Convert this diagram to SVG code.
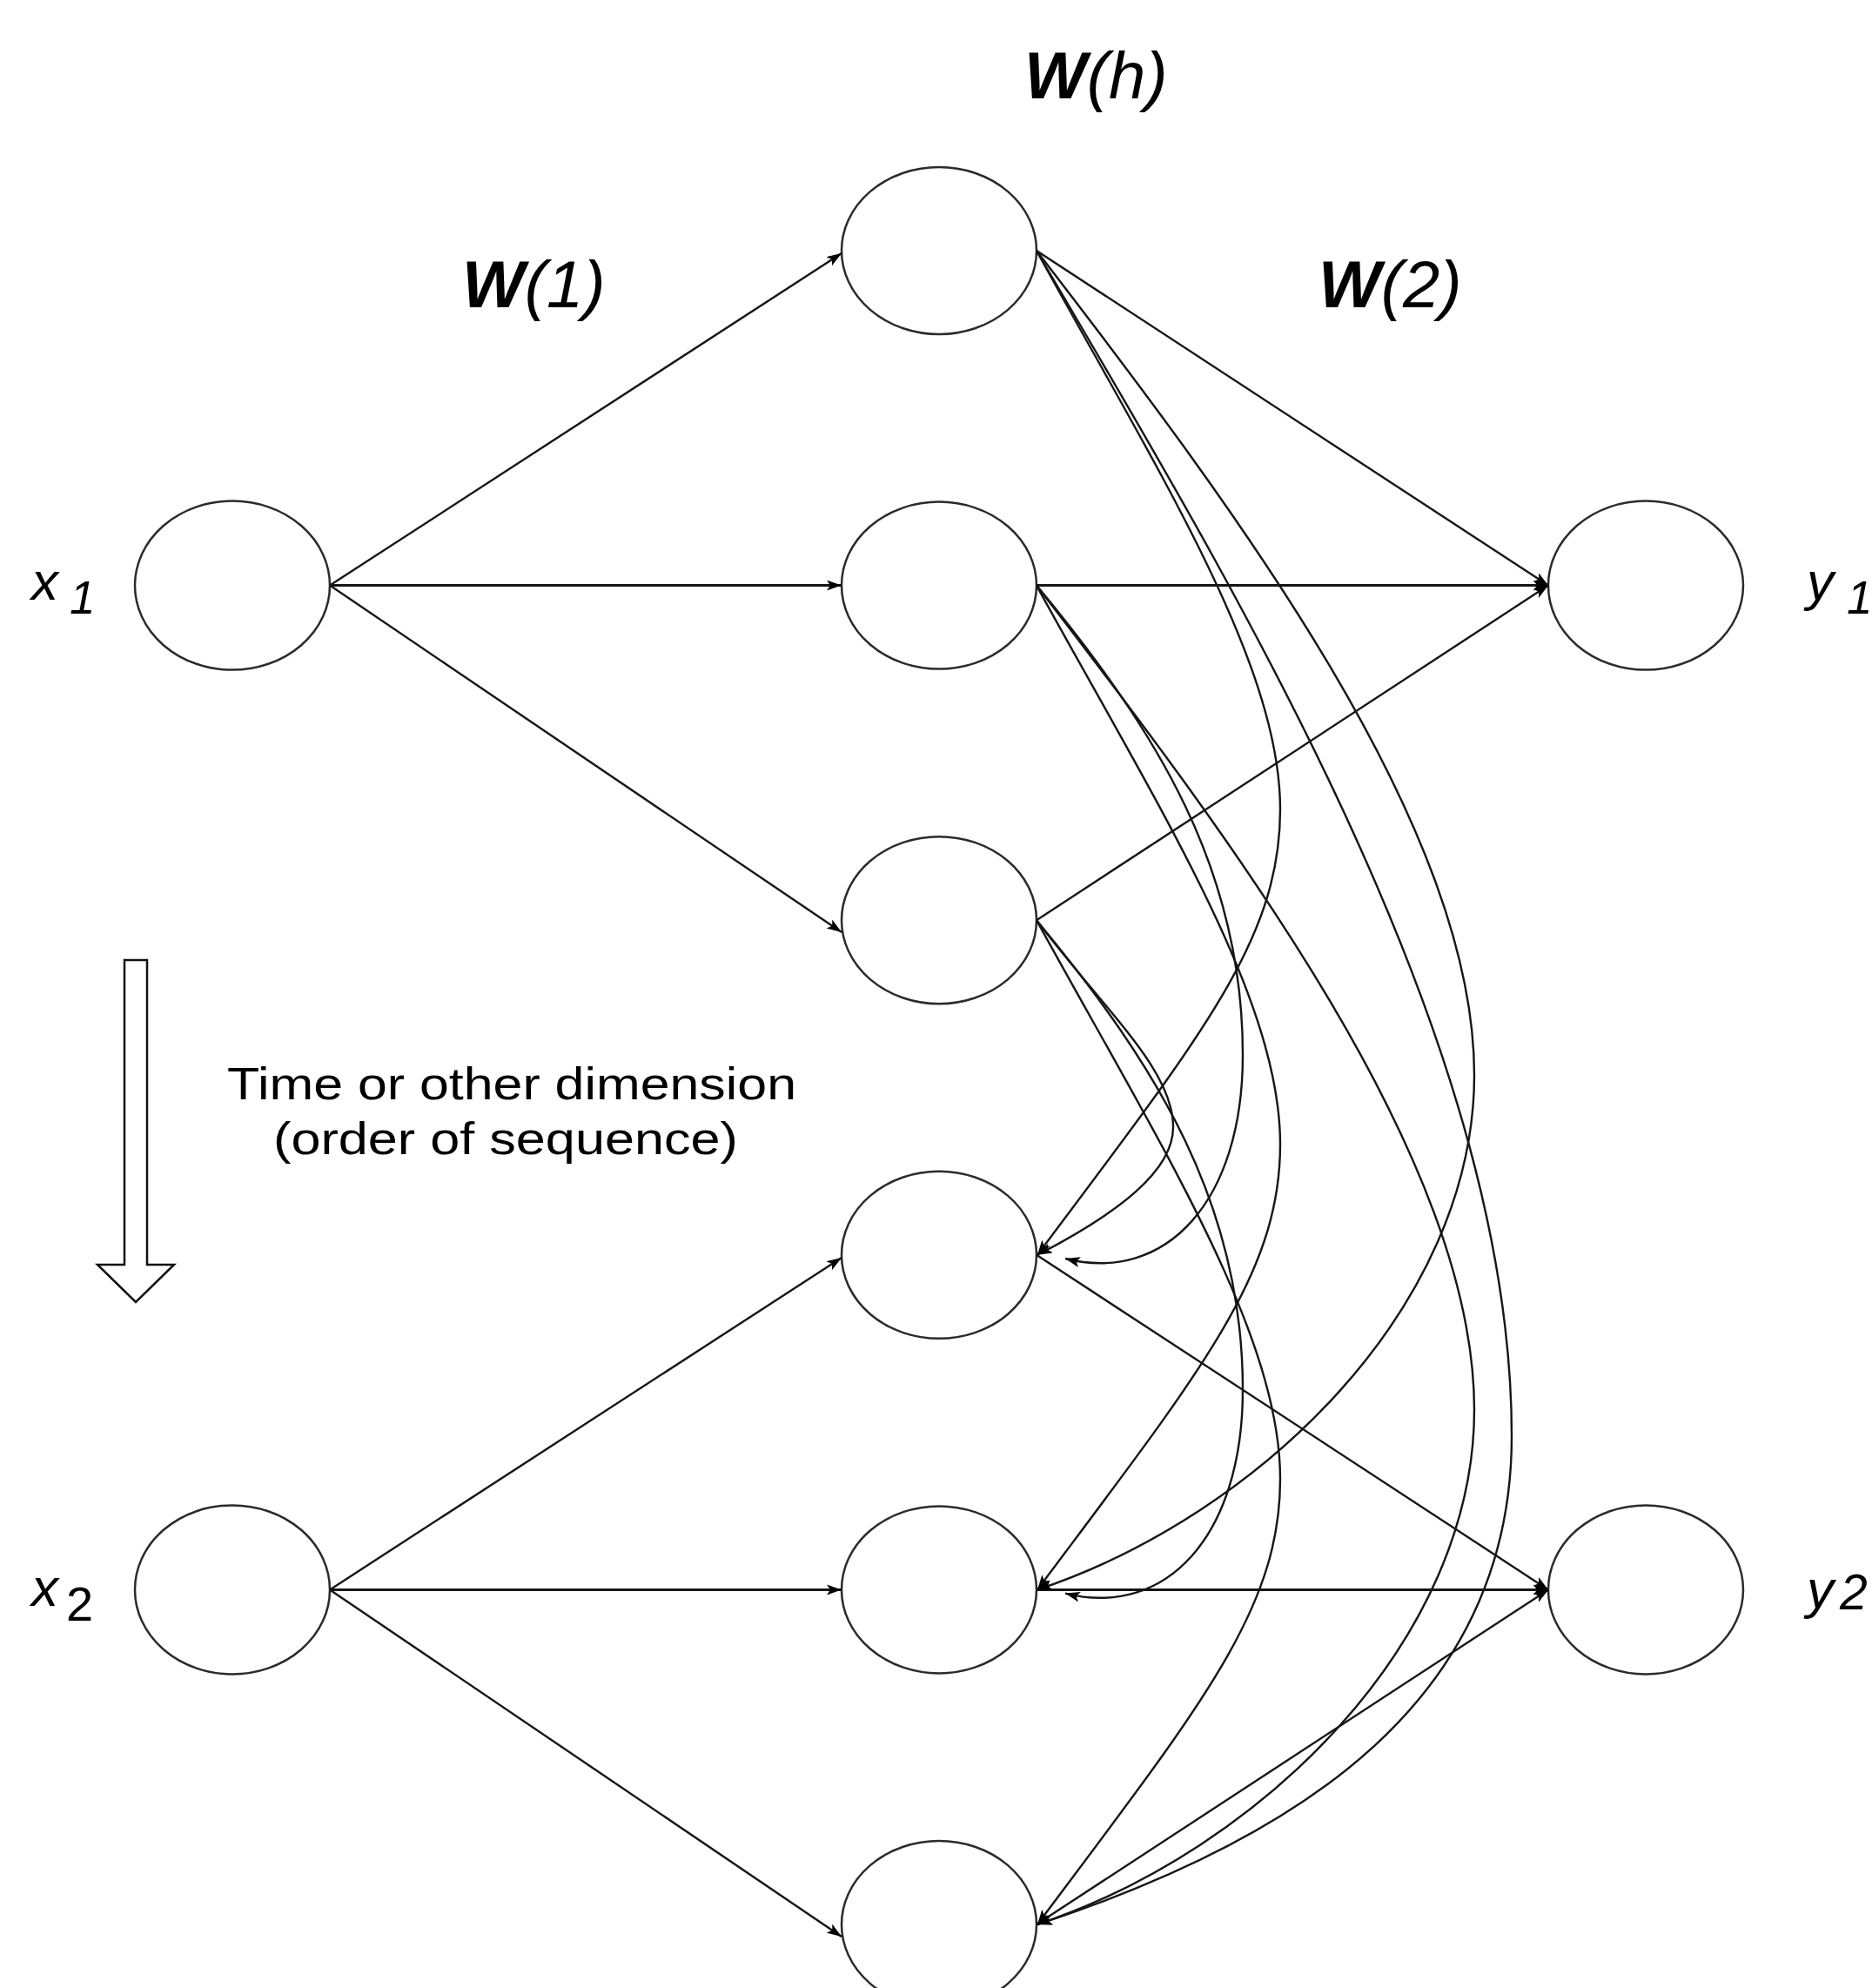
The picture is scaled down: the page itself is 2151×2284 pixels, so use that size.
<svg xmlns="http://www.w3.org/2000/svg" width="2151" height="2284" viewBox="0 0 2151 2284">
<style>
.node{fill:#fff;stroke:#2b2b2b;stroke-width:2.5}
.edge{fill:none;stroke:#161616;stroke-width:2.4}
.hz{stroke-width:3}
.lbl{font-family:"Liberation Sans",Arial,Helvetica,sans-serif;fill:#000}
.it{font-style:italic}
</style>
<defs>
<marker id="arr" markerUnits="userSpaceOnUse" markerWidth="20" markerHeight="14" refX="17" refY="6" orient="auto">
<path d="M0,0 L17,6 L0,12 L4,6 Z" fill="#000"/>
</marker>
</defs>
<rect x="0" y="0" width="2151" height="2284" fill="#fff"/>

<g id="node-x1"><ellipse class="node" cx="267" cy="672.6" rx="112" ry="97"/></g>
<g id="node-x2"><ellipse class="node" cx="267" cy="1826.4" rx="112" ry="97"/></g>
<g id="node-h1"><ellipse class="node" cx="1079" cy="288" rx="112" ry="96"/></g>
<g id="node-h2"><ellipse class="node" cx="1079" cy="672.6" rx="112" ry="96"/></g>
<g id="node-h3"><ellipse class="node" cx="1079" cy="1057.2" rx="112" ry="96"/></g>
<g id="node-h4"><ellipse class="node" cx="1079" cy="1441.8" rx="112" ry="96"/></g>
<g id="node-h5"><ellipse class="node" cx="1079" cy="1826.4" rx="112" ry="96"/></g>
<g id="node-h6"><ellipse class="node" cx="1079" cy="2211" rx="112" ry="96"/></g>
<g id="node-y1"><ellipse class="node" cx="1891" cy="672.6" rx="112" ry="97"/></g>
<g id="node-y2"><ellipse class="node" cx="1891" cy="1826.4" rx="112" ry="97"/></g>

<g id="connectors">
<path class="edge" d="M379,672.6 L967,291" marker-end="url(#arr)"/>
<path class="edge hz" d="M379,672.6 L967,672.6" marker-end="url(#arr)"/>
<path class="edge" d="M379,672.6 L967,1071" marker-end="url(#arr)"/>
<path class="edge" d="M379,1826.4 L967,1445" marker-end="url(#arr)"/>
<path class="edge hz" d="M379,1826.4 L967,1826.4" marker-end="url(#arr)"/>
<path class="edge" d="M379,1826.4 L967,2225" marker-end="url(#arr)"/>
<path class="edge" d="M1191,288 L1779,672.6" marker-end="url(#arr)"/>
<path class="edge hz" d="M1191,672.6 L1779,672.6" marker-end="url(#arr)"/>
<path class="edge" d="M1191,1057.2 L1779,672.6" marker-end="url(#arr)"/>
<path class="edge" d="M1191,1441.8 L1779,1826.4" marker-end="url(#arr)"/>
<path class="edge hz" d="M1191,1826.4 L1779,1826.4" marker-end="url(#arr)"/>
<path class="edge" d="M1191,2211 L1779,1826.4" marker-end="url(#arr)"/>
<path class="edge" d="M1191,288 C1328,538 1471,760 1471,930 C1471,1080 1380,1190 1192,1441.8" marker-end="url(#arr)"/>
<path class="edge" d="M1191,672.6 C1328,922.6 1471,1144.6 1471,1314.6 C1471,1464.6 1380,1574.6 1192,1826.4" marker-end="url(#arr)"/>
<path class="edge" d="M1191,1057.2 C1328,1307.2 1471,1529.2 1471,1699.2 C1471,1849.2 1380,1959.2 1192,2211" marker-end="url(#arr)"/>
<path class="edge" d="M1191,288 C1422,588 1694,950 1694,1235 C1694,1500 1450,1740 1192,1826.4" marker-end="url(#arr)"/>
<path class="edge" d="M1191,672.6 C1422,972.6 1694,1334.6 1694,1619.6 C1694,1884.6 1450,2124.6 1192,2211" marker-end="url(#arr)"/>
<path class="edge" d="M1191,288 C1426,688 1737,1200 1737,1650 C1737,1950 1500,2110 1192,2211" marker-end="url(#arr)"/>
<path class="edge" d="M1191,672.6 C1330,840 1428,1000 1428,1212 C1428,1380 1340,1475 1224,1446" marker-end="url(#arr)"/>
<path class="edge" d="M1191,1057.2 C1330,1224.6 1428,1384.6 1428,1596.6 C1428,1764.6 1340,1859.6 1224,1830.6" marker-end="url(#arr)"/>
<path class="edge" d="M1191,1057.2 C1275,1167 1348,1230 1348,1295 C1348,1345 1286,1393 1192,1441.8" marker-end="url(#arr)"/>
</g>

<g id="time-arrow">
<polygon points="143,1103 169,1103 169,1453 200,1453 156,1496 112,1453 143,1453" fill="#fff" stroke="#111" stroke-width="2.5"/>
</g>

<g id="labels">
<text class="lbl it" x="1177" y="113" font-size="76"><tspan font-weight="bold">W</tspan>(h)</text>
<text class="lbl it" x="531" y="353" font-size="76"><tspan font-weight="bold">W</tspan>(1)</text>
<text class="lbl it" x="1515" y="353" font-size="76"><tspan font-weight="bold">W</tspan>(2)</text>
<text class="lbl it" x="36" y="689" font-size="62">x</text>
<text class="lbl it" x="80" y="705" font-size="53">1</text>
<text class="lbl it" x="36" y="1845" font-size="62">x</text>
<text class="lbl" x="76" y="1862" font-size="56">2</text>
<text class="lbl it" x="2076" y="689" font-size="62">y</text>
<text class="lbl it" x="2122" y="705" font-size="53">1</text>
<text class="lbl it" x="2076" y="1847" font-size="62">y</text>
<text class="lbl it" x="2114" y="1849" font-size="57">2</text>
<text class="lbl" x="261" y="1263" font-size="52" textLength="654" lengthAdjust="spacingAndGlyphs">Time or other dimension</text>
<text class="lbl" x="314" y="1326" font-size="52" textLength="534" lengthAdjust="spacingAndGlyphs">(order of sequence)</text>
</g>
</svg>
